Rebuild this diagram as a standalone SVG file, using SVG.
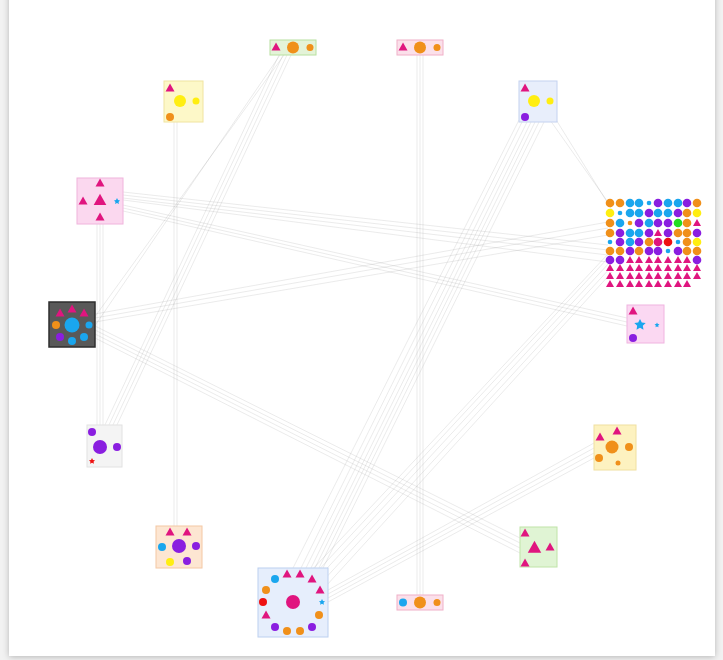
<svg xmlns="http://www.w3.org/2000/svg" width="723" height="660" viewBox="0 0 723 660">
<defs>
<style>
.e{stroke:#9a9a9a;stroke-opacity:0.2;stroke-width:1;fill:none}
.tri{fill:#e0157f}
.or{fill:#f0901a}
.ye{fill:#ffee11}
.bl{fill:#1aa6ee}
.pu{fill:#8a1ee0}
.rd{fill:#ee1111}
.gr{fill:#22dd22}
</style>
<filter id="sh" x="-5%" y="-5%" width="110%" height="110%"><feDropShadow dx="0" dy="1" stdDeviation="3" flood-color="#000" flood-opacity="0.25"/></filter>
<symbol id="t" viewBox="-5 -5 10 10" overflow="visible"><polygon points="0,-4.5 4.5,3.5 -4.5,3.5"/></symbol>
<polygon id="gt" points="0,-4 4,3 -4,3"/>
<circle id="gc" r="4.3"/>
<circle id="gs" r="2.3"/>
</defs>
<rect width="723" height="660" fill="#f2f2f2"/>
<rect x="9" y="-10" width="706" height="666" fill="#fff" filter="url(#sh)"/>
<g id="connectors">
<path class="e" d="M174 122V526M177 122V526"/>
<path class="e" d="M97 224V425M100 224V425M103 224V425"/>
<path class="e" d="M417 55V595M423 55V595M420 55V595"/>
<path class="e" d="M283 55L108 427M287 55L112 427M291 55L116 427M279 55L104 427"/>
<path class="e" d="M280 55L92 330M284 55L94 318"/>
<path class="e" d="M523 120L300 570M528 120L305 570M532 120L310 570M536 120L314 570M540 120L318 570M519 120L292 570M545 120L322 570"/>
<path class="e" d="M123 195L608 250M123 198L608 255M123 192L608 245M123 200L608 262"/>
<path class="e" d="M123 205L627 318M123 208L627 322M123 211L627 326"/>
<path class="e" d="M95 318L608 228M95 322L608 235M95 314L608 222"/>
<path class="e" d="M95 330L520 543M95 334L520 548M95 338L520 553M95 326L520 538"/>
<path class="e" d="M318 578L610 262M322 582L612 266M326 586L612 272M314 575L608 258M310 572L608 254"/>
<path class="e" d="M328 590L594 443M328 594L594 448M328 598L594 453M328 602L594 458"/>
<path class="e" d="M550 120L610 205M555 118L612 210"/>
</g>
<g id="n1"><rect x="270" y="40" width="46" height="15" fill="#e4f3d8" stroke="#b8e0a0"/><use href="#t" class="tri" x="271" y="42" width="10" height="10"/><circle class="or" cx="293" cy="47.5" r="6"/><circle class="or" cx="310" cy="47.5" r="3.5"/></g>
<g id="n2"><rect x="397" y="40" width="46" height="15" fill="#fbe0ea" stroke="#f0b0c8"/><use href="#t" class="tri" x="398" y="42" width="10" height="10"/><circle class="or" cx="420" cy="47.5" r="6"/><circle class="or" cx="437" cy="47.5" r="3.5"/></g>
<g id="n3"><rect x="164" y="81" width="39" height="41" fill="#fdf8c8" stroke="#f0e4a0"/><use href="#t" class="tri" x="165" y="83" width="10" height="10"/><circle class="ye" cx="180" cy="101" r="6"/><circle class="ye" cx="196" cy="101" r="3.5"/><circle class="or" cx="170" cy="117" r="4"/></g>
<g id="n4"><rect x="519" y="81" width="38" height="41" fill="#e8eefb" stroke="#c4d2f0"/><use href="#t" class="tri" x="520" y="83" width="10" height="10"/><circle class="ye" cx="534" cy="101" r="6"/><circle class="ye" cx="550" cy="101" r="3.5"/><circle class="pu" cx="525" cy="117" r="4"/></g>
<g id="n5"><rect x="77" y="178" width="46" height="46" fill="#fbd8ef" stroke="#f0b4dc"/><use href="#t" class="tri" x="95" y="178" width="10" height="10"/><use href="#t" class="tri" x="78" y="196" width="10" height="10"/><use href="#t" class="tri" x="93" y="193" width="14" height="14"/><use href="#t" class="tri" x="95" y="212" width="10" height="10"/><polygon class="bl" points="117,198 118,200 120,200.5 118.5,202 119,204 117,203 115,204 115.5,202 114,200.5 116,200"/></g>
<g id="n6">
<g transform="translate(610,203)">
<g class="or"><use href="#gc" x="0" y="0"/><use href="#gc" x="10" y="0"/></g>
<g class="bl"><use href="#gc" x="20" y="0"/><use href="#gc" x="29" y="0"/><use href="#gs" x="39" y="0"/><use href="#gc" x="58" y="0"/><use href="#gc" x="68" y="0"/></g>
<g class="pu"><use href="#gc" x="48" y="0"/><use href="#gc" x="77" y="0"/></g>
<use href="#gc" class="or" x="87" y="0"/>
<use href="#gc" class="ye" x="0" y="10"/><use href="#gs" class="bl" x="10" y="10"/><use href="#gc" class="bl" x="20" y="10"/><use href="#gc" class="bl" x="29" y="10"/><use href="#gc" class="pu" x="39" y="10"/><use href="#gc" class="bl" x="48" y="10"/><use href="#gc" class="bl" x="58" y="10"/><use href="#gc" class="pu" x="68" y="10"/><use href="#gc" class="or" x="77" y="10"/><use href="#gc" class="ye" x="87" y="10"/>
<use href="#gc" class="or" x="0" y="20"/><use href="#gc" class="bl" x="10" y="20"/><use href="#gs" class="or" x="20" y="20"/><use href="#gc" class="pu" x="29" y="20"/><use href="#gc" class="bl" x="39" y="20"/><use href="#gc" class="pu" x="48" y="20"/><use href="#gc" class="pu" x="58" y="20"/><use href="#gc" class="gr" x="68" y="20"/><use href="#gc" class="or" x="77" y="20"/><use href="#gt" class="tri" x="87" y="20"/>
<use href="#gc" class="or" x="0" y="30"/><use href="#gc" class="pu" x="10" y="30"/><use href="#gc" class="bl" x="20" y="30"/><use href="#gc" class="bl" x="29" y="30"/><use href="#gc" class="pu" x="39" y="30"/><use href="#gt" class="tri" x="48" y="30"/><use href="#gc" class="pu" x="58" y="30"/><use href="#gc" class="or" x="68" y="30"/><use href="#gc" class="or" x="77" y="30"/><use href="#gc" class="pu" x="87" y="30"/>
<use href="#gs" class="bl" x="0" y="39"/><use href="#gc" class="pu" x="10" y="39"/><use href="#gc" class="bl" x="20" y="39"/><use href="#gc" class="tri" x="48" y="39"/><use href="#gc" class="rd" x="58" y="39"/><use href="#gc" class="pu" x="29" y="39"/><use href="#gc" class="or" x="39" y="39"/><use href="#gs" class="bl" x="68" y="39"/><use href="#gc" class="or" x="77" y="39"/><use href="#gc" class="ye" x="87" y="39"/>
<use href="#gc" class="or" x="0" y="48"/><use href="#gc" class="or" x="10" y="48"/><use href="#gc" class="pu" x="20" y="48"/><use href="#gc" class="or" x="29" y="48"/><use href="#gc" class="pu" x="39" y="48"/><use href="#gc" class="pu" x="48" y="48"/><use href="#gs" class="bl" x="58" y="48"/><use href="#gc" class="pu" x="68" y="48"/><use href="#gc" class="or" x="77" y="48"/><use href="#gc" class="or" x="87" y="48"/>
<use href="#gc" class="pu" x="0" y="57"/><use href="#gc" class="pu" x="10" y="57"/>
<g class="tri">
<use href="#gt" x="20" y="57"/><use href="#gt" x="29" y="57"/><use href="#gt" x="39" y="57"/><use href="#gt" x="48" y="57"/><use href="#gt" x="58" y="57"/><use href="#gt" x="68" y="57"/><use href="#gt" x="77" y="57"/><use href="#gc" x="87" y="57" class="pu"/>
<use href="#gt" x="0" y="65"/><use href="#gt" x="10" y="65"/><use href="#gt" x="20" y="65"/><use href="#gt" x="29" y="65"/><use href="#gt" x="39" y="65"/><use href="#gt" x="48" y="65"/><use href="#gt" x="58" y="65"/><use href="#gt" x="68" y="65"/><use href="#gt" x="77" y="65"/><use href="#gt" x="87" y="65"/>
<use href="#gt" x="0" y="73"/><use href="#gt" x="10" y="73"/><use href="#gt" x="20" y="73"/><use href="#gt" x="29" y="73"/><use href="#gt" x="39" y="73"/><use href="#gt" x="48" y="73"/><use href="#gt" x="58" y="73"/><use href="#gt" x="68" y="73"/><use href="#gt" x="77" y="73"/><use href="#gt" x="87" y="73"/>
<use href="#gt" x="0" y="81"/><use href="#gt" x="10" y="81"/><use href="#gt" x="20" y="81"/><use href="#gt" x="29" y="81"/><use href="#gt" x="39" y="81"/><use href="#gt" x="48" y="81"/><use href="#gt" x="58" y="81"/><use href="#gt" x="68" y="81"/><use href="#gt" x="77" y="81"/>
</g>
</g>
</g>
<g id="n7"><rect x="49" y="302" width="46" height="45" fill="#595959" stroke="#2e2e2e" stroke-width="1.5"/><circle class="bl" cx="72" cy="325" r="7.5"/><use href="#t" class="tri" x="55" y="308" width="10" height="10"/><use href="#t" class="tri" x="67" y="304" width="10" height="10"/><use href="#t" class="tri" x="79" y="308" width="10" height="10"/><circle class="or" cx="56" cy="325" r="4"/><circle class="bl" cx="89" cy="325" r="3.5"/><circle class="pu" cx="60" cy="337" r="4"/><circle class="bl" cx="72" cy="341" r="4"/><circle class="bl" cx="84" cy="337" r="4"/></g>
<g id="n8"><rect x="627" y="305" width="37" height="38" fill="#fbd8f2" stroke="#f0b4e0"/><use href="#t" class="tri" x="628" y="306" width="10" height="10"/><polygon class="bl" points="640,319 641.8,322.6 645.7,323.1 642.8,325.8 643.5,329.7 640,327.8 636.5,329.7 637.2,325.8 634.3,323.1 638.2,322.6"/><polygon class="bl" points="657,322.5 657.8,324 659.5,324.3 658.2,325.5 658.5,327.2 657,326.4 655.5,327.2 655.8,325.5 654.5,324.3 656.2,324"/><circle class="pu" cx="633" cy="338" r="4"/></g>
<g id="n9"><rect x="87" y="425" width="35" height="42" fill="#f4f4f4" stroke="#e2e2e2"/><circle class="pu" cx="92" cy="432" r="4"/><circle class="pu" cx="100" cy="447" r="7"/><circle class="pu" cx="117" cy="447" r="4"/><polygon class="rd" points="92,458 93,460 95,460.3 93.5,461.7 94,463.8 92,462.8 90,463.8 90.5,461.7 89,460.3 91,460"/></g>
<g id="n10"><rect x="594" y="425" width="42" height="45" fill="#fdf2c0" stroke="#f0e0a0"/><use href="#t" class="tri" x="595" y="432" width="10" height="10"/><use href="#t" class="tri" x="612" y="426" width="10" height="10"/><circle class="or" cx="612" cy="447" r="6.5"/><circle class="or" cx="629" cy="447" r="4"/><circle class="or" cx="599" cy="458" r="4"/><circle class="or" cx="618" cy="463" r="2.5"/></g>
<g id="n11"><rect x="156" y="526" width="46" height="42" fill="#fde6d2" stroke="#f4c8a4"/><use href="#t" class="tri" x="165" y="527" width="10" height="10"/><use href="#t" class="tri" x="182" y="527" width="10" height="10"/><circle class="bl" cx="162" cy="547" r="4"/><circle class="pu" cx="179" cy="546" r="7"/><circle class="pu" cx="196" cy="546" r="4"/><circle class="ye" cx="170" cy="562" r="4"/><circle class="pu" cx="187" cy="561" r="4"/></g>
<g id="n12"><rect x="520" y="527" width="37" height="40" fill="#e0f4d4" stroke="#c0e4a8"/><use href="#t" class="tri" x="520" y="528" width="10" height="10"/><use href="#t" class="tri" x="527" y="540" width="15" height="15"/><use href="#t" class="tri" x="545" y="542" width="10" height="10"/><use href="#t" class="tri" x="520" y="558" width="10" height="10"/></g>
<g id="n13"><rect x="258" y="568" width="70" height="69" fill="#e6eefc" stroke="#bcd0f0"/><circle class="tri" cx="293" cy="602" r="7"/><circle class="bl" cx="275" cy="579" r="4"/><use href="#t" class="tri" x="282" y="569" width="10" height="10"/><use href="#t" class="tri" x="295" y="569" width="10" height="10"/><use href="#t" class="tri" x="307" y="574" width="10" height="10"/><use href="#t" class="tri" x="315" y="585" width="10" height="10"/><polygon class="bl" points="322,599 323,601 325,601.3 323.5,602.7 324,604.8 322,603.8 320,604.8 320.5,602.7 319,601.3 321,601"/><circle class="or" cx="319" cy="615" r="4"/><circle class="pu" cx="312" cy="627" r="4"/><circle class="or" cx="300" cy="631" r="4"/><circle class="or" cx="287" cy="631" r="4"/><circle class="pu" cx="275" cy="627" r="4"/><use href="#t" class="tri" x="261" y="610" width="10" height="10"/><circle class="rd" cx="263" cy="602" r="4"/><circle class="or" cx="266" cy="590" r="4"/></g>
<g id="n14"><rect x="397" y="595" width="46" height="15" fill="#fbe0ea" stroke="#f0b0c8"/><circle class="bl" cx="403" cy="602.5" r="4"/><circle class="or" cx="420" cy="602.5" r="6"/><circle class="or" cx="437" cy="602.5" r="3.5"/></g>
</svg>
